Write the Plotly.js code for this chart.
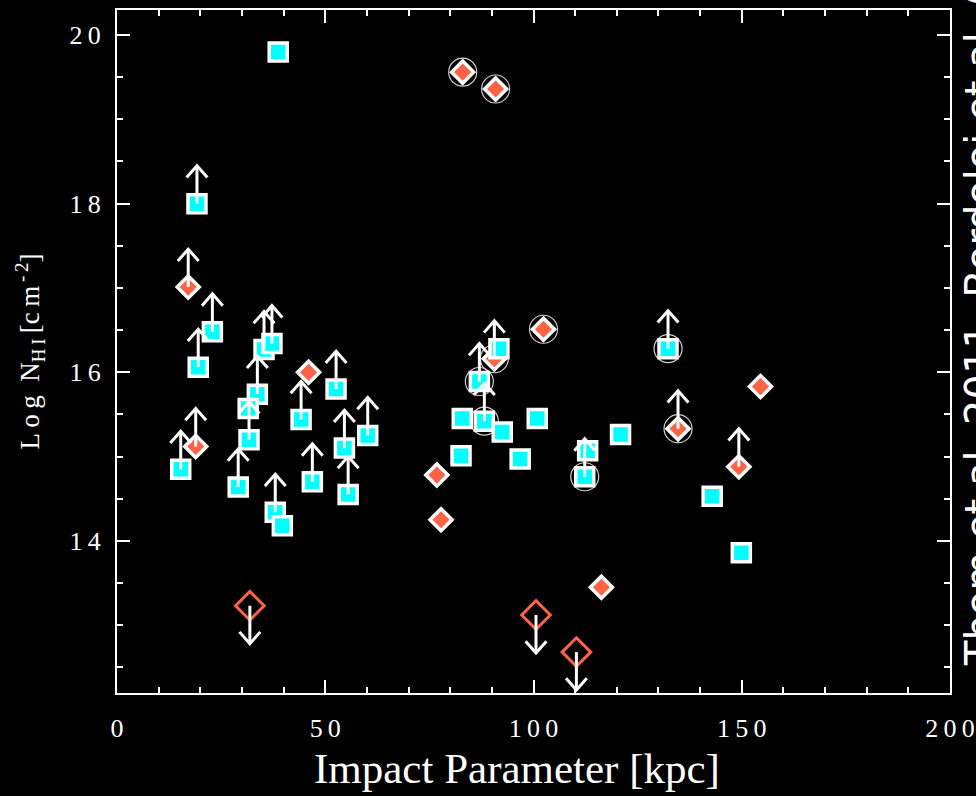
<!DOCTYPE html>
<html><head><meta charset="utf-8">
<script src="https://cdn.plot.ly/plotly-3.0.1.min.js"></script>
<style>html,body{margin:0;padding:0;background:#000;}#chart{width:976px;height:796px;}</style>
</head><body><div id="chart"></div>
<script>
// Cyan squares: impact parameter [kpc], log N_HI, lower-limit flag, circled flag
const sqX    = [38.7, 19.2, 22.9, 19.5, 35.3, 37.2, 33.7, 31.5, 31.7, 44.2, 52.6, 60.2, 54.6, 55.5, 46.9, 29.1, 38.0, 39.7, 15.3, 91.7, 87.0, 88.2, 82.9, 92.5, 100.9, 82.6, 96.8, 113.0, 112.3, 120.9, 132.3, 142.9, 149.9];
const sqY    = [19.80, 18.00, 16.48, 16.06, 16.27, 16.34, 15.74, 15.57, 15.20, 15.44, 15.80, 15.25, 15.10, 14.55, 14.70, 14.64, 14.34, 14.18, 14.85, 16.28, 15.89, 15.42, 15.45, 15.29, 15.45, 15.01, 14.97, 15.07, 14.76, 15.26, 16.28, 14.53, 13.86];
const sqLim  = [0, 1, 1, 1, 1, 1, 1, 0, 1, 1, 1, 1, 1, 1, 1, 1, 1, 0, 1, 0, 1, 1, 0, 0, 0, 0, 0, 0, 1, 0, 1, 0, 0];
const sqCirc = [0, 0, 0, 0, 0, 0, 0, 0, 0, 0, 0, 0, 0, 0, 0, 0, 0, 0, 0, 0, 1, 1, 0, 0, 0, 0, 0, 0, 1, 0, 1, 0, 0];

// Red diamonds
const dmX    = [17.1, 18.9, 46.0, 83.0, 90.9, 90.6, 102.4, 76.8, 77.8, 116.3, 154.5, 134.7, 149.3];
const dmY    = [17.01, 15.12, 16.00, 19.56, 19.36, 16.16, 16.51, 14.78, 14.25, 13.45, 15.83, 15.33, 14.88];
const dmLim  = [1, 1, 0, 0, 0, 1, 0, 0, 0, 0, 0, 1, 1];
const dmCirc = [0, 0, 0, 1, 1, 1, 1, 0, 0, 0, 0, 1, 0];

// Upper limits (open diamonds)
const ulX = [31.9, 100.6, 110.3];
const ulY = [13.23, 13.12, 12.68];

const xTickVals = [0, 50, 100, 150, 200];
const xTickText = ["0", "5\u20090", "1\u20090\u20090", "1\u20095\u20090", "2\u20090\u20090"];
const yTickVals = [14, 16, 18, 20];
const yTickText = ["1\u20094", "1\u20096", "1\u20098", "2\u20090"];

// arrow glyph size (in axis units)
const SHAFT = 0.45, HEADY = 0.14, HEADX = 2.5;
function arrows(xs, ys, flags, dir) {
  const ax = [], ay = [];
  xs.forEach((x, i) => {
    if (!flags[i]) return;
    const y = ys[i], tip = y + dir * SHAFT, arm = y + dir * (SHAFT - HEADY);
    ax.push(x, x, null, x - HEADX, x, x + HEADX, null);
    ay.push(y, tip, null, arm, tip, arm, null);
  });
  return {x: ax, y: ay};
}
const upA = arrows(sqX.concat(dmX), sqY.concat(dmY), sqLim.concat(dmLim), 1);
const dnA = arrows(ulX, ulY, ulX.map(() => 1), -1);

const circX = sqX.filter((_, i) => sqCirc[i]).concat(dmX.filter((_, i) => dmCirc[i]));
const circY = sqY.filter((_, i) => sqCirc[i]).concat(dmY.filter((_, i) => dmCirc[i]));

const traces = [
  {x: dmX, y: dmY, type: 'scatter', mode: 'markers', hoverinfo: 'skip',
   marker: {symbol: 'diamond', size: 17, color: '#FF6347', line: {color: '#ffffff', width: 3.5}}},
  {x: circX, y: circY, type: 'scatter', mode: 'markers', hoverinfo: 'skip',
   marker: {symbol: 'circle-open', size: 28, color: '#cfcfcf', line: {width: 1.2}}},
  {x: sqX, y: sqY, type: 'scatter', mode: 'markers', hoverinfo: 'skip',
   marker: {symbol: 'square', size: 18, color: '#00FFFF', line: {color: '#ffffff', width: 3.5}}},
  {x: ulX, y: ulY, type: 'scatter', mode: 'markers', hoverinfo: 'skip',
   marker: {symbol: 'diamond-open', size: 22, color: '#FF6347', line: {width: 3}}},
  {x: upA.x.concat(dnA.x), y: upA.y.concat(dnA.y), type: 'scatter', mode: 'lines', hoverinfo: 'skip',
   line: {color: '#ffffff', width: 3}}
];

const tickFont = {family: 'Liberation Serif', size: 26, color: '#ffffff'};
const layout = {
  width: 976, height: 796,
  paper_bgcolor: '#000000', plot_bgcolor: '#000000',
  margin: {l: 117, r: 26, t: 10, b: 103},
  showlegend: false,
  xaxis: {
    range: [0, 200], tickvals: xTickVals, ticktext: xTickText,
    ticks: 'inside', ticklen: 13, tickwidth: 2, tickcolor: '#ffffff',
    minor: {dtick: 10, ticks: 'inside', ticklen: 6, tickwidth: 2, tickcolor: '#ffffff'},
    showline: true, linecolor: '#ffffff', linewidth: 2, mirror: 'allticks',
    showgrid: false, zeroline: false, tickfont: tickFont, ticklabelstandoff: 11
  },
  yaxis: {
    range: [12.195, 20.297], tickvals: yTickVals, ticktext: yTickText,
    ticks: 'inside', ticklen: 13, tickwidth: 2, tickcolor: '#ffffff',
    minor: {dtick: 0.5, ticks: 'inside', ticklen: 6, tickwidth: 2, tickcolor: '#ffffff'},
    showline: true, linecolor: '#ffffff', linewidth: 2, mirror: 'allticks',
    showgrid: false, zeroline: false, tickfont: tickFont, ticklabelstandoff: 9,
    title: {text: 'L\u2009o\u2009g\u2002N<sub>H\u2009I</sub>\u2009[c\u2009m<sup>\u2009-\u20092</sup>]',
            font: {family: 'Liberation Serif', size: 27, color: '#ffffff'}, standoff: 22}
  },
  annotations: [
    {
      text: 'Impact Parameter [kpc]',
      xref: 'paper', yref: 'paper', x: 0.480, y: 0, yshift: -50,
      xanchor: 'center', yanchor: 'top', showarrow: false,
      font: {family: 'Liberation Serif', size: 43, color: '#ffffff'}
    },
    {
      text: 'Thom et al. 2011, Bordoloi et al. (2014)', textangle: -90,
      xref: 'paper', yref: 'paper', x: 1.0, xshift: 5, y: 0.0366,
      xanchor: 'left', yanchor: 'bottom', showarrow: false,
      font: {family: 'DejaVu Sans', size: 40, color: '#ffffff'}
    }
  ]
};
Plotly.newPlot('chart', traces, layout, {staticPlot: true});
</script></body></html>
